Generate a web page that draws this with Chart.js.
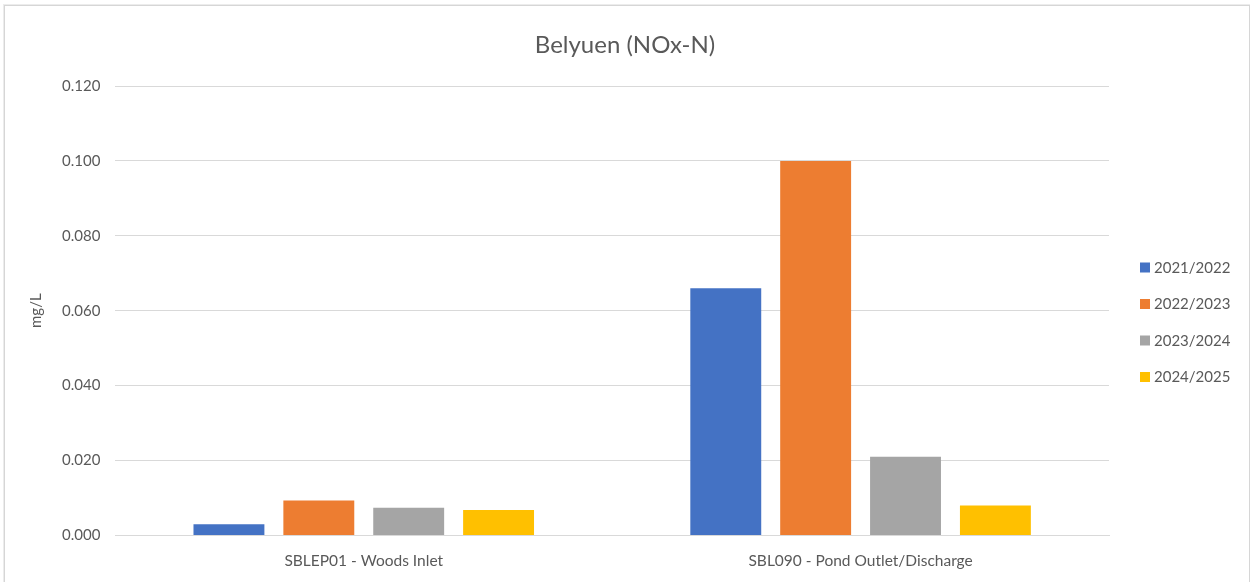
<!DOCTYPE html>
<html>
<head>
<meta charset="utf-8">
<title>Belyuen (NOx-N)</title>
<script src="https://cdn.jsdelivr.net/npm/chart.js@4.4.1/dist/chart.umd.min.js"></script>
<style>
  html, body { margin: 0; padding: 0; background: #ffffff; }
  #wrap { position: relative; width: 1250px; height: 582px; overflow: hidden; }
  #chart { position: absolute; left: 0; top: 0; }
  #frame {
    position: absolute; left: 4px; top: 5px; width: 1244px; height: 600px;
    border: 1px solid #d6d6d6; box-shadow: 0 0 0 1px #ececec; pointer-events: none;
  }
</style>
</head>
<body>
<div id="wrap">
  <canvas id="chart" width="1250" height="582"></canvas>
  <div id="frame"></div>
</div>
<script>
// Sampling sites
const categories = ['SBLEP01 - Woods Inlet', 'SBL090 - Pond Outlet/Discharge'];

// Reporting years
const seriesLabels = ['2021/2022', '2022/2023', '2023/2024', '2024/2025'];

// NOx-N concentration (mg/L) per year, one value per site
const values2021_2022 = [0.003, 0.066];
const values2022_2023 = [0.0093, 0.100];
const values2023_2024 = [0.0074, 0.021];
const values2024_2025 = [0.0068, 0.008];

// Value axis tick labels
const yTickLabels = ['0.000', '0.020', '0.040', '0.060', '0.080', '0.100', '0.120'];

const seriesValues = [values2021_2022, values2022_2023, values2023_2024, values2024_2025];
const seriesColors = ['#4472C4', '#ED7D31', '#A5A5A5', '#FFC000'];

const textColor = '#595959';
const gridColor = '#d9d9d9';
const fontFamily = 'Lato, "Open Sans", "Liberation Sans", sans-serif';

// Legend column on the right: reserves its own layout box so the title
// stays centred on the whole canvas, then lists the datasets.
const sideLegend = {
  id: 'sideLegend',
  beforeInit(chart) {
    const box = {
      position: 'right',
      weight: 0,
      fullSize: false,
      options: {},
      left: 0, top: 0, right: 0, bottom: 0, width: 0, height: 0,
      isHorizontal() { return false; },
      update(maxWidth, maxHeight) { this.width = 141; this.height = maxHeight; },
      draw() {}
    };
    Chart.layouts.addBox(chart, box);
  },
  afterDraw(chart) {
    const ctx = chart.ctx;
    const boxX = 1140, size = 10, textX = 1154;
    const startY = 267.5, stepY = 36.5;
    ctx.save();
    ctx.font = '15px ' + fontFamily;
    ctx.textBaseline = 'middle';
    ctx.textAlign = 'left';
    chart.data.datasets.forEach((ds, i) => {
      const y = startY + i * stepY;
      ctx.fillStyle = ds.backgroundColor;
      ctx.fillRect(boxX, y - size / 2, size, size);
      ctx.fillStyle = textColor;
      ctx.fillText(ds.label, textX, y + 0.5);
    });
    ctx.restore();
  }
};

const chart = new Chart(document.getElementById('chart'), {
  type: 'bar',
  data: {
    labels: categories,
    datasets: seriesLabels.map((label, i) => ({
      label: label,
      data: seriesValues[i],
      backgroundColor: seriesColors[i],
      borderWidth: 0,
      categoryPercentage: 0.7236,
      barPercentage: 0.789
    }))
  },
  options: {
    responsive: false,
    animation: false,
    devicePixelRatio: 1,
    layout: { padding: { left: 0, right: 0, top: 0, bottom: -4 } },
    plugins: {
      legend: { display: false },
      tooltip: { enabled: false },
      title: {
        display: true,
        text: 'Belyuen (NOx-N)',
        color: textColor,
        font: { family: fontFamily, size: 24, weight: 'normal' },
        padding: { top: 31, bottom: 26.2 }
      }
    },
    scales: {
      x: {
        grid: { display: false, drawTicks: false },
        border: { display: true, color: gridColor, width: 1 },
        ticks: {
          color: textColor,
          font: { family: fontFamily, size: 15.5 },
          padding: 16,
          maxRotation: 0
        }
      },
      y: {
        min: 0,
        max: 0.12,
        grid: { color: gridColor, lineWidth: 1, drawTicks: false },
        border: { display: false },
        ticks: {
          stepSize: 0.02,
          color: textColor,
          font: { family: fontFamily, size: 15 },
          padding: 15,
          callback: (v, i) => yTickLabels[i]
        },
        title: {
          display: true,
          text: 'mg/L',
          color: textColor,
          font: { family: fontFamily, size: 15 },
          padding: { top: 27, bottom: 2 }
        }
      }
    }
  },
  plugins: [sideLegend]
});
</script>
</body>
</html>
